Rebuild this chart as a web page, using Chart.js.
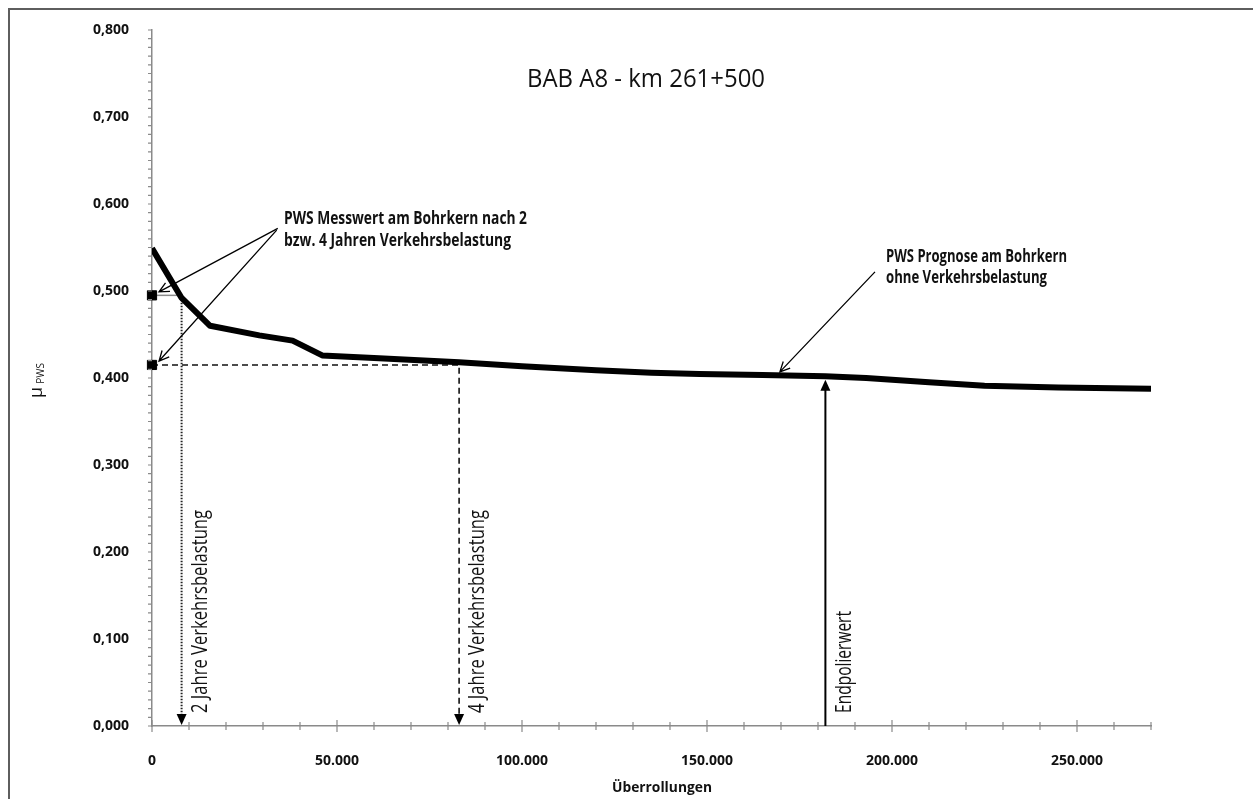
<!DOCTYPE html>
<html>
<head>
<meta charset="utf-8">
<title>BAB A8 - km 261+500</title>
<script src="https://cdn.jsdelivr.net/npm/chart.js@4.4.0/dist/chart.umd.min.js"></script>
<style>
  html, body { margin: 0; padding: 0; background: #fff; }
  #wrap { width: 1253px; height: 799px; }
</style>
</head>
<body>
<div id="wrap"><canvas id="canvas" width="1253" height="799"></canvas></div>
<script>
// PWS Prognose am Bohrkern (ohne Verkehrsbelastung)
const ueberrollungen = [0, 8000, 15700, 29000, 38000, 46000, 60000, 83000, 100000, 120000, 135000, 148000, 165000, 182000, 193000, 210000, 225000, 245000, 270000];
const muPws = [0.549, 0.492, 0.460, 0.449, 0.443, 0.426, 0.423, 0.418, 0.4135, 0.409, 0.406, 0.4045, 0.4035, 0.402, 0.400, 0.395, 0.391, 0.389, 0.3875];

// Messwerte am Bohrkern nach 2 bzw. 4 Jahren
const messX = [0, 0];
const messY = [0.495, 0.415];

// Zeitpunkte auf der x-Achse
const jahre2 = 8000;
const jahre4 = 83000;
const endpolier = 182000;
const endpolierY = 0.398;

// axis ticks
const yMax = 0.8;
const xMax = 270000;
const yStep = 0.01;
const xStep = 10000;

function pts(xs, ys) {
  return xs.map(function (v, i) { return { x: v, y: ys[i] }; });
}

function fitText(ctx, text, px, py, width, rot) {
  const w = ctx.measureText(text).width;
  ctx.save();
  ctx.translate(px, py);
  if (rot) ctx.rotate(rot);
  ctx.scale(width / w, 1);
  ctx.fillText(text, 0, 0);
  ctx.restore();
}

function arrowHead(ctx, tx, ty, dir) {
  // filled triangle, dir 1 = down, -1 = up
  ctx.beginPath();
  ctx.moveTo(tx, ty);
  ctx.lineTo(tx - 5, ty - dir * 11);
  ctx.lineTo(tx + 5, ty - dir * 11);
  ctx.closePath();
  ctx.fill();
}

function openArrow(ctx, x0, y0, x1, y1) {
  const a = Math.atan2(y1 - y0, x1 - x0);
  ctx.beginPath();
  ctx.moveTo(x0, y0);
  ctx.lineTo(x1, y1);
  ctx.moveTo(x1 - 11 * Math.cos(a - 0.45), y1 - 11 * Math.sin(a - 0.45));
  ctx.lineTo(x1, y1);
  ctx.lineTo(x1 - 11 * Math.cos(a + 0.45), y1 - 11 * Math.sin(a + 0.45));
  ctx.stroke();
}

// ticks, arrows and texts
const extras = {
  id: 'extras',
  afterDraw: function (chart) {
    const ctx = chart.ctx;
    const x = chart.scales.x;
    const y = chart.scales.y;
    const y0 = y.getPixelForValue(0);
    const x0 = x.getPixelForValue(0);

    ctx.save();
    // frame
    ctx.strokeStyle = '#5e5e5e';
    ctx.lineWidth = 2;
    ctx.beginPath();
    ctx.moveTo(9, 800);
    ctx.lineTo(9, 9);
    ctx.lineTo(1253, 9);
    ctx.stroke();

    // tick marks
    ctx.strokeStyle = '#8a8a8a';
    ctx.lineWidth = 1.2;
    ctx.beginPath();
    x.ticks.forEach(function (t) {
      const px = x.getPixelForValue(t.value);
      const len = t.value % 50000 === 0 ? 6 : 4;
      ctx.moveTo(px, y0 - len);
      ctx.lineTo(px, y0 + len);
    });
    y.ticks.forEach(function (t) {
      const py = y.getPixelForValue(t.value);
      ctx.moveTo(x0 - 4, py);
      ctx.lineTo(x0, py);
    });
    ctx.stroke();

    // arrow heads on the vertical lines
    ctx.fillStyle = '#000';
    arrowHead(ctx, x.getPixelForValue(jahre2), y0 - 1, 1);
    arrowHead(ctx, x.getPixelForValue(jahre4), y0 - 1, 1);
    arrowHead(ctx, x.getPixelForValue(endpolier), y.getPixelForValue(endpolierY), -1);

    // pointer arrows
    ctx.strokeStyle = '#000';
    ctx.lineWidth = 1.3;
    openArrow(ctx, x.getPixelForValue(34000), y.getPixelForValue(0.572), x.getPixelForValue(1900), y.getPixelForValue(0.499));
    openArrow(ctx, x.getPixelForValue(33700), y.getPixelForValue(0.570), x.getPixelForValue(1900), y.getPixelForValue(0.4195));
    openArrow(ctx, x.getPixelForValue(195400), y.getPixelForValue(0.522), x.getPixelForValue(169700), y.getPixelForValue(0.407));

    // title
    ctx.fillStyle = '#111';
    ctx.textBaseline = 'alphabetic';
    ctx.textAlign = 'left';
    ctx.font = '25px "Open Sans", sans-serif';
    fitText(ctx, 'BAB A8 - km 261+500', 527, 87, 238);

    // annotation texts
    ctx.font = '700 17px "Open Sans", sans-serif';
    fitText(ctx, 'PWS Messwert am Bohrkern nach 2', 284, 224, 243);
    fitText(ctx, 'bzw. 4 Jahren Verkehrsbelastung', 284, 246, 227);
    fitText(ctx, 'PWS Prognose am Bohrkern', 886, 262, 181);
    fitText(ctx, 'ohne Verkehrsbelastung', 886, 283, 161);

    // vertical labels
    ctx.font = '500 21px "Open Sans", sans-serif';
    fitText(ctx, '2 Jahre Verkehrsbelastung', 207, 713, 203, -Math.PI / 2);
    fitText(ctx, '4 Jahre Verkehrsbelastung', 484, 713, 203, -Math.PI / 2);
    fitText(ctx, 'Endpolierwert', 851, 713, 102, -Math.PI / 2);

    // axis titles
    ctx.font = '700 15px "Open Sans", sans-serif';
    fitText(ctx, 'Überrollungen', 612, 792, 100);
    ctx.save();
    ctx.translate(42, 398);
    ctx.rotate(-Math.PI / 2);
    ctx.font = '18px "Open Sans", sans-serif';
    ctx.fillText('\u03bc', 0, 0);
    const mw = ctx.measureText('\u03bc').width;
    ctx.font = '10px "Open Sans", sans-serif';
    ctx.fillText('PWS', mw + 3, 2);
    ctx.restore();

    ctx.restore();
  }
};

const data = {
  datasets: [
    {
      // Prognose
      data: pts(ueberrollungen, muPws),
      showLine: true,
      borderColor: '#000',
      borderWidth: 6,
      pointRadius: 0,
      borderJoinStyle: 'round',
      order: 0,
    },
    {
      // 2 Jahre: gray line to the curve, dotted line down
      data: pts([0, jahre2], [messY[0], messY[0]]),
      showLine: true,
      borderColor: '#8a8a8a',
      borderWidth: 1.5,
      pointRadius: 0,
      order: 2,
    },
    {
      data: pts([jahre2, jahre2], [0.49, 0.012]),
      showLine: true,
      borderColor: '#222',
      borderWidth: 2,
      borderDash: [1.5, 1.5],
      pointRadius: 0,
      order: 2,
    },
    {
      // 4 Jahre: dashed
      data: pts([0, jahre4, jahre4], [messY[1], messY[1], 0.012]),
      showLine: true,
      borderColor: '#111',
      borderWidth: 1.6,
      borderDash: [6, 4],
      pointRadius: 0,
      order: 2,
    },
    {
      // Endpolierwert
      data: pts([endpolier, endpolier], [0, endpolierY - 0.01]),
      showLine: true,
      borderColor: '#000',
      borderWidth: 2,
      pointRadius: 0,
      order: 2,
    },
    {
      // Messwerte
      data: pts(messX, messY),
      showLine: false,
      pointStyle: 'rect',
      pointRadius: 6.5,
      backgroundColor: '#000',
      borderColor: '#000',
      clip: false,
      order: 1,
    },
  ],
};

const config = {
  type: 'scatter',
  data,
  plugins: [extras],
  options: {
    responsive: false,
    animation: false,
    layout: { padding: { top: 30, right: 102, left: 0, bottom: 0 } },
    plugins: {
      legend: { display: false },
      tooltip: { enabled: false },
    },
    scales: {
      x: {
        type: 'linear',
        min: 0,
        max: xMax,
        afterFit: function (s) { s.height = 73; },
        grid: { display: false },
        border: { display: true, color: '#8a8a8a', width: 1.5 },
        ticks: {
          stepSize: xStep,
          autoSkip: false,
          maxRotation: 0,
          padding: 19,
          color: '#111',
          font: { family: 'Open Sans', size: 14, weight: '700' },
          callback: function (v) {
            return v % 50000 === 0 ? v.toLocaleString('de-DE') : '';
          },
        },
      },
      y: {
        min: 0,
        max: yMax,
        afterFit: function (s) { s.width = 152; },
        grid: { display: false },
        border: { display: true, color: '#8a8a8a', width: 1.5 },
        ticks: {
          stepSize: yStep,
          autoSkip: false,
          padding: 15,
          color: '#111',
          font: { family: 'Open Sans', size: 14, weight: '700' },
          callback: function (v) {
            const n = Math.round(v * 100);
            return n % 10 === 0 ? (n / 100).toFixed(3).replace('.', ',') : '';
          },
        },
      },
    },
  },
};

const myChart = new Chart(document.getElementById('canvas'), config);
</script>
</body>
</html>
